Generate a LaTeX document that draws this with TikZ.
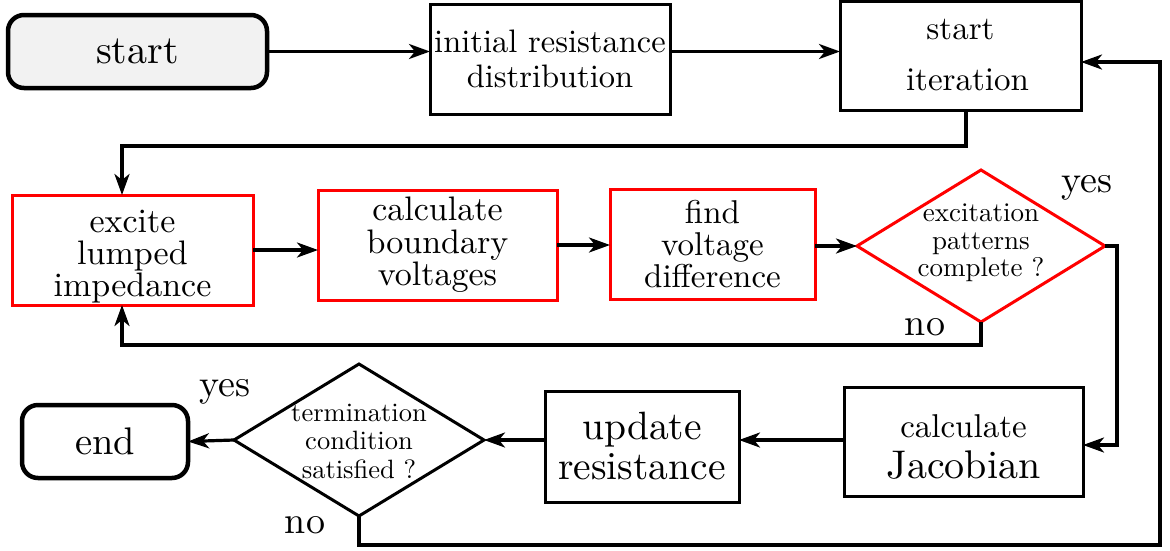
\documentclass[tikz,border=0pt]{standalone}
\usepackage{fontspec}
\setmainfont{lmroman10}[Extension=.otf, UprightFont=*-regular, BoldFont=*-bold, ItalicFont=*-italic, BoldItalicFont=*-bolditalic]
\usetikzlibrary{shapes.geometric,arrows.meta,calc}
\definecolor{startgray}{HTML}{F2F2F2}
% invisible strut that pushes a node's text block down a little
\newcommand{\topgap}[1]{\rule{0pt}{#1}}
\begin{document}
\begin{tikzpicture}[x=1pt,y=-1pt,
  box/.style={draw, line width=3pt, rectangle, align=center, inner sep=0pt, outer sep=0pt},
  redbox/.style={box, draw=red},
  term/.style={draw, line width=4.5pt, rounded corners=16pt, align=center, inner sep=0pt, outer sep=0pt},
  decision/.style={draw, diamond, line width=3pt, inner sep=0pt, outer sep=0pt},
  arr/.style={line width=3.2pt, -{Stealth[length=21pt,width=15pt,inset=6pt]}},
  lbl/.style={font=\fontsize{38}{40}\selectfont, inner sep=0pt}
]
\useasboundingbox (0,0) rectangle (1170,550);

% first row
\node[term, fill=startgray, minimum width=259pt, minimum height=73pt,
      font=\fontsize{40}{44}\selectfont] (start) at (137.5,51.5) {start};
\node[box, minimum width=240pt, minimum height=110pt,
      font=\fontsize{32.5}{35}\selectfont] (init) at (550,59) {initial resistance\\distribution};
\node[box, minimum width=241pt, minimum height=109pt,
      font=\fontsize{33}{51}\selectfont] (iter) at (960.5,55.5) {start\\\hspace*{14pt}iteration};

% second row
\node[redbox, minimum width=241pt, minimum height=110pt,
      font=\fontsize{34}{32}\selectfont] (excite) at (132.5,250) {\topgap{36pt}excite\\lumped\\impedance};
\node[redbox, minimum width=239pt, minimum height=110pt,
      font=\fontsize{34}{32.5}\selectfont] (calc) at (437.5,245)
      {calculate\\boundary\\voltages};
\node[redbox, minimum width=205pt, minimum height=110pt,
      font=\fontsize{33}{32}\selectfont] (find) at (712.5,244) {find\\voltage\\difference};
\node[decision, draw=red, minimum width=248pt, minimum height=152pt] (pat) at (981,246) {};
\node[align=center, inner sep=0pt, font=\fontsize{27}{27.5}\selectfont] (pattxt) at (981,243)
      {excitation\\patterns\\complete ?};

% third row
\node[box, minimum width=239pt, minimum height=109pt,
      font=\fontsize{33}{41}\selectfont] (jac) at (963.5,441.5)
      {\topgap{34pt}calculate\\{\fontsize{40}{41}\selectfont Jacobian}};
\node[box, minimum width=194pt, minimum height=111pt,
      font=\fontsize{39.5}{40}\selectfont] (upd) at (642,446.5) {update\\resistance};
\node[decision, minimum width=250pt, minimum height=152pt] (stop) at (359,440) {};
\node[align=center, inner sep=0pt, font=\fontsize{26.5}{28.5}\selectfont] (stoptxt) at (359,441)
      {termination\\condition\\satisfied ?};
\node[term, minimum width=166pt, minimum height=73pt,
      font=\fontsize{38.5}{42}\selectfont] (end) at (105,441.5) {end};

% branch labels
\node[lbl] (yes1) at (1087,188) {yes};
\node[lbl] (no1) at (925,327) {no};
\node[lbl] (yes2) at (225,392) {yes};
\node[lbl] (no2) at (305,525) {no};

% connectors
\draw[arr] (start.east) -- (start.east -| init.west);
\draw[arr] (start.east -| init.east) -- (start.east -| iter.west);
\draw[arr] ($(iter.south)+(5.5,0)$) -- ++(0,36) -| ($(excite.north)+(-10.5,0)$);
\draw[arr] (excite.east) -- (excite.east -| calc.west);
\draw[arr] (calc.east) -- (calc.east -| find.west);
\draw[arr] (find.east |- pat.west) -- (pat.west);
\draw[arr] (pat.east) -- ++(12,0) |- ($(jac.east)+(0,3.5)$);
\draw[arr] (pat.south) -- ++(0,23) -| ($(excite.south)+(-10.5,0)$);
\draw[arr] (jac.west |- 0,440) -- (upd.east |- 0,440);
\draw[arr] (upd.west |- stop.east) -- (stop.east);
\draw[arr] (stop.west) -- (end.east);
\draw[arr] (stop.south) -- ++(0,29) -| (1160,62) -- (iter.east |- 0,62);
\end{tikzpicture}
\end{document}
